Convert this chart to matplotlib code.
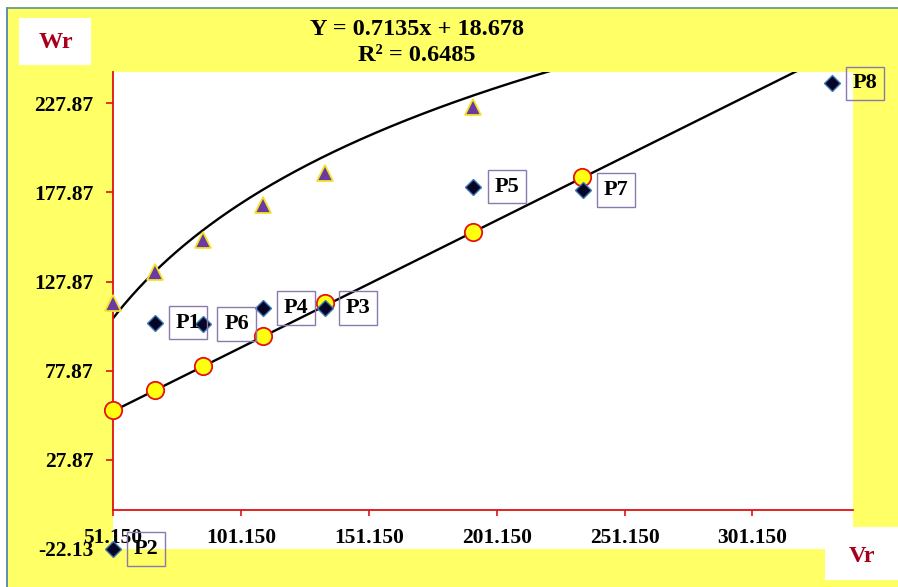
import numpy as np
import matplotlib
matplotlib.use("Agg")
import matplotlib.pyplot as plt
from matplotlib.patches import Rectangle
from matplotlib.lines import Line2D

# ---------------- data ----------------
tri_x = [51.15, 67.6, 86.4, 109.7, 134.0, 192.0]
tri_y = [115.8, 133.5, 151.2, 170.9, 188.6, 226.0]

circ_x = [51.15, 67.6, 86.4, 109.7, 134.0, 192.0, 234.4]
circ_y = [56.0, 67.2, 80.7, 97.5, 115.8, 155.9, 186.7]

pt_labels = ["P1", "P2", "P3", "P4", "P5", "P6", "P7", "P8"]
pt_x = [67.5, 51.15, 134.0, 109.8, 192.0, 86.4, 234.8, 332.1]
pt_y = [104.9, -22.13, 113.0, 113.0, 181.1, 104.1, 179.3, 239.1]

lin_slope = 0.7135
lin_intercept = 18.678
r_squared = 0.6485
log_a = 94.5      # upper (logarithmic) trend curve coefficients
log_b = -264.6

xticks = [51.15, 101.15, 151.15, 201.15, 251.15, 301.15]
xticklabels = ["51.150", "101.150", "151.150", "201.150", "251.150", "301.150"]
yticks = [-22.13, 27.87, 77.87, 127.87, 177.87, 227.87]
yticklabels = ["-22.13", "27.87", "77.87", "127.87", "177.87", "227.87"]
xlim = (51.15, 340.45)
ylim = (-22.13, 245.4)

# ---------------- figure ----------------
W, H = 898, 587
fig = plt.figure(figsize=(W / 100, H / 100), dpi=100, facecolor="white")
SERIF = "Liberation Serif"
YELLOW = "#FFFF66"
DARKRED = "#A8001A"

def fx(px):
    return px / W

def fy(py):
    return 1 - py / H

# yellow background with border lines
fig.patches.append(Rectangle((fx(7), -0.05), 1.1, fy(8) + 0.05, transform=fig.transFigure,
                             facecolor=YELLOW, edgecolor="none", zorder=-2))
fig.lines.append(Line2D([fx(6.5), fx(6.5)], [0, fy(8)], transform=fig.transFigure,
                        color="#4f86b5", lw=1.3, zorder=-1))
fig.lines.append(Line2D([fx(6.5), 1], [fy(8), fy(8)], transform=fig.transFigure,
                        color="#6f9a8a", lw=1.3, zorder=-1))

ax = fig.add_axes([fx(113), fy(549), fx(853) - fx(113), fy(72) - fy(549)])
ax.set_zorder(1)
ax.set_facecolor("white")
ax.set_xlim(*xlim)
ax.set_ylim(*ylim)

# spines
for s in ["top", "right"]:
    ax.spines[s].set_visible(False)
ax.spines["bottom"].set_position(("data", 0))
ax.spines["bottom"].set_color("#E01010")
ax.spines["left"].set_color("#E01010")
ax.spines["bottom"].set_linewidth(1.3)
ax.spines["left"].set_linewidth(1.3)
ax.spines["left"].set_bounds(0, ylim[1])

ax.set_xticks(xticks)
ax.set_xticklabels(xticklabels)
ax.set_yticks(yticks)
ax.set_yticklabels(yticklabels)
ax.tick_params(axis="x", direction="out", length=4, width=1.2, color="#E01010", pad=9)
ax.tick_params(axis="y", direction="out", length=5, width=1.2, color="#E01010", pad=9)
for lab in ax.get_xticklabels() + ax.get_yticklabels():
    lab.set_fontfamily(SERIF)
    lab.set_fontweight("bold")
    lab.set_fontsize(15.5)
    lab.set_color("black")

# trend lines
xs = np.linspace(xlim[0], xlim[1], 400)
ax.plot(xs, lin_slope * xs + lin_intercept, color="black", lw=1.7, zorder=2)
ax.plot(xs, log_a * np.log(xs) + log_b, color="black", lw=1.7, zorder=2)

# markers
ax.plot(tri_x, tri_y, linestyle="none", marker="^", markersize=12,
        markerfacecolor="#6B3A9E", markeredgecolor="#F2E22A", markeredgewidth=1.3,
        zorder=4, clip_on=False)
ax.plot(circ_x, circ_y, linestyle="none", marker="o", markersize=12.5,
        markerfacecolor="#FFFF10", markeredgecolor="#E81010", markeredgewidth=1.3,
        zorder=4, clip_on=False)
ax.plot(pt_x, pt_y, linestyle="none", marker="D", markersize=8,
        markerfacecolor="#050525", markeredgecolor="#3F78B0", markeredgewidth=1.0,
        zorder=5, clip_on=False)

for lab, x, y in zip(pt_labels, pt_x, pt_y):
    ax.annotate(lab, (x, y), xytext=(24, 0), textcoords="offset points",
                ha="center", va="center", fontsize=16, fontweight="bold",
                family=SERIF, color="black", annotation_clip=False, zorder=6,
                bbox=dict(boxstyle="square,pad=0.3", facecolor="none",
                          edgecolor="#8A7AAE", linewidth=1.0))

# title (trend equation)
fig.text(fx(417), fy(35), f"Y = {lin_slope}x + {lin_intercept}", ha="center",
         va="baseline", fontsize=17.5, fontweight="bold", family=SERIF)
fig.text(fx(417), fy(61), f"R\u00b2 = {r_squared}", ha="center",
         va="baseline", fontsize=17.5, fontweight="bold", family=SERIF)

# axis name boxes
fig.patches.append(Rectangle((fx(19), fy(65)), fx(91) - fx(19), fy(18) - fy(65),
                             transform=fig.transFigure, facecolor="white",
                             edgecolor="none", zorder=3))
fig.text(fx(56), fy(43), "Wr", ha="center", va="center", fontsize=17.5,
         fontweight="bold", family=SERIF, color=DARKRED, zorder=4)

fig.patches.append(Rectangle((fx(825), fy(580)), fx(898) - fx(825), fy(527) - fy(580),
                             transform=fig.transFigure, facecolor="white",
                             edgecolor="none", zorder=3))
fig.text(fx(862), fy(556), "Vr", ha="center", va="center", fontsize=17.5,
         fontweight="bold", family=SERIF, color=DARKRED, zorder=4)

fig.savefig("out.png", dpi=100, facecolor=fig.get_facecolor())
